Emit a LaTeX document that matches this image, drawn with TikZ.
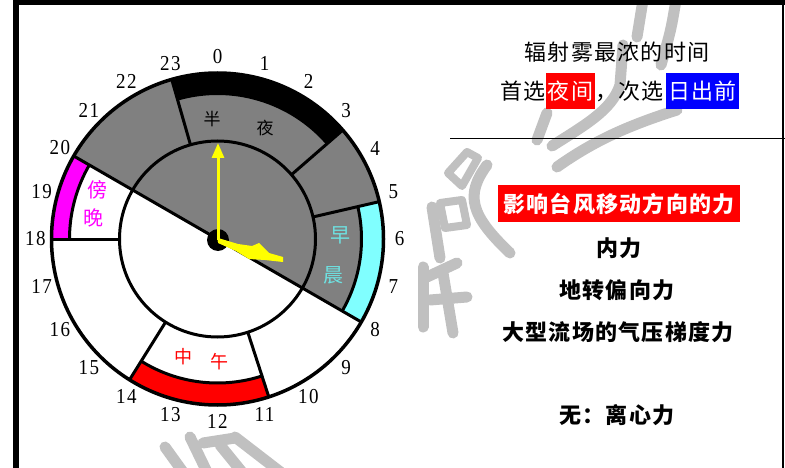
\documentclass[tikz,border=0pt]{standalone}
\usepackage{fontspec}
\usetikzlibrary{arrows.meta}
\setmainfont{Liberation Serif}
\newfontfamily\numfont[LetterSpace=8]{Liberation Serif}
\newfontfamily\cjk{Noto Sans CJK SC}
\newfontfamily\cjksp[LetterSpace=6]{Noto Sans CJK SC}
\definecolor{clkgray}{RGB}{128,128,128}
\definecolor{bandcyan}{RGB}{128,255,255}
\definecolor{txtcyan}{RGB}{110,225,225}
\definecolor{bandmag}{RGB}{255,0,255}
\definecolor{wmgray}{RGB}{192,192,192}
\definecolor{pured}{RGB}{255,0,0}
\definecolor{pureblue}{RGB}{0,0,255}
\definecolor{pureyellow}{RGB}{255,255,0}
\tikzset{
  wm/.style={draw=wmgray, line width=11pt, line cap=round, line join=round},
  clkline/.style={line width=3pt},
  hourlbl/.style={font=\numfont\fontsize{19}{19}\selectfont, inner sep=0pt, yscale=1.12, transform shape},
  zone/.style={font=\cjk\fontsize{#1}{#1}\selectfont, inner sep=0pt},
  rtext/.style={font=\cjksp\fontsize{22}{22}\selectfont, inner sep=0pt},
  btext/.style={font=\cjksp\bfseries\fontsize{22}{22}\selectfont, inner sep=0pt},
  hibox/.style={fill=#1, text=white, inner sep=0pt, font=\cjksp\fontsize{22}{22}\selectfont}
}
\begin{document}
\begin{tikzpicture}[x=1pt,y=1pt,line join=round]
\useasboundingbox (0,0) rectangle (785,-468);
\fill[white] (0,0) rectangle (785,-468);

% watermark (pixel coordinates, y downward)
\begin{scope}[yscale=-1]
\draw[wm] (643,0) -- (637,37);
\draw[wm] (676,0) .. controls (671,30) .. (661,65);
\draw[wm] (623,45) -- (620,85) .. controls (612,110) and (585,125) .. (552,146);
\draw[wm] (677,110) .. controls (630,125) and (595,140) .. (557,167);
\draw[wm] (547,113) -- (537,140);
\draw[wm, line width=8pt] (448,173) -- (467,152) -- (478,158) -- (462,186) -- cycle;
\draw[wm] (487,165) .. controls (465,195) and (470,215) .. (510,253);
\draw[wm, line width=8pt] (440,203) -- (462,200) -- (467,225) -- (445,228) -- cycle;
\draw[wm] (432,207) -- (440,258);
\draw[wm] (423,267) -- (423,327);
\draw[wm] (427,277) -- (457,263);
\draw[wm] (430,300) -- (467,297);
\draw[wm] (443,273) -- (453,333);
\draw[wm] (165,447) -- (183,472);
\draw[wm] (190,437) -- (207,472);
\draw[wm] (203,443) -- (235,438);
\draw[wm] (220,445) -- (242,472);
\draw[wm] (235,437) -- (283,474);
\end{scope}

% frame
\fill (13,0) rectangle (785,-5);
\fill (13,0) rectangle (19,-468);
\draw[line width=2pt] (783,0) -- (783,-468);
\draw[line width=1.8pt] (450,-138.5) -- (785,-138.5);

% clock
\begin{scope}[shift={(217.5,-239)}]
  \fill[clkgray] (0,0) -- (-30:166) arc[start angle=-30,end angle=150,radius=166] -- cycle;
  \fill[black] (41:144) arc[start angle=41,end angle=106,radius=144] -- (106:166) arc[start angle=106,end angle=41,radius=166] -- cycle;
  \fill[bandcyan] (-30:144) arc[start angle=-30,end angle=13,radius=144] -- (13:166) arc[start angle=13,end angle=-30,radius=166] -- cycle;
  \fill[pured] (-122:144) arc[start angle=-122,end angle=-72,radius=144] -- (-72:166) arc[start angle=-72,end angle=-122,radius=166] -- cycle;
  \fill[bandmag] (150:148) arc[start angle=150,end angle=180,radius=148] -- (180:166) arc[start angle=180,end angle=150,radius=166] -- cycle;
  \draw[clkline] (-30:144) arc[start angle=-30,end angle=13,radius=144];
  \draw[clkline] (-122:144) arc[start angle=-122,end angle=-72,radius=144];
  \draw[clkline] (150:148) arc[start angle=150,end angle=180,radius=148];
  \foreach \a in {106,41,13,-72,-122,180}{\draw[clkline] (\a:98) -- (\a:166);}
  \draw[clkline] (0,0) circle[radius=98];
  \draw[clkline] (150:166) -- (-30:166);
  \draw[line width=3.5pt] (0,0) circle[radius=166];
  \foreach \h in {0,...,23}{\node[hourlbl] (h\h) at ({90-15*\h}:182) {\h};}
\end{scope}

% hub and hands
\fill (218,-240) circle[radius=11];
\draw[pureyellow, line width=3pt, -{Triangle[width=12pt,length=15pt]}] (218,-240) -- (218,-143);
\draw[pureyellow, line width=3pt] (218,-240) -- (238,-247);
\fill[pureyellow] (218,-238) -- (238,-244) -- (252,-246) -- (259,-243) -- (269,-253) -- (283,-257) -- (283,-262) -- (265,-260) -- (249,-259) -- (236,-251) -- (218,-243) -- cycle;

% zone labels
\node[zone=17, text=black] (ban) at (212,-119) {半};
\node[zone=17, text=black] (ye) at (265,-128) {夜};
\node[zone=20, text=bandmag] (bang) at (97,-190) {傍};
\node[zone=20, text=bandmag] (wan) at (93,-218) {晚};
\node[zone=20, text=txtcyan] (zao) at (340,-235) {早};
\node[zone=20, text=txtcyan] (chen) at (333,-275) {晨};
\node[zone=18, text=pured] (zhong) at (183,-357) {中};
\node[zone=18, text=pured] (wu) at (219,-362) {午};

% right texts
\node[rtext] (t1) at (617,-52) {辐射雾最浓的时间};
\node[rtext, anchor=east] (t2a) at (546,-91) {首选};
\node[hibox=pured, minimum width=49pt, minimum height=36pt] (t2b) at (570.5,-91) {夜间};
\node[rtext, anchor=west] (t2c) at (595,-91) {，次选};
\node[hibox=pureblue, minimum width=73pt, minimum height=36pt] (t2d) at (702.5,-91) {日出前};

\node[hibox=pured, font=\cjksp\bfseries\fontsize{22}{22}\selectfont, minimum width=242pt, minimum height=37pt] (f0) at (619,-203.5) {影响台风移动方向的力};
\node[btext] (f1) at (619,-248) {内力};
\node[btext] (f2) at (617,-290) {地转偏向力};
\node[btext] (f3) at (618,-332) {大型流场的气压梯度力};
\node[btext] (f4) at (617,-415) {无：离心力};
\end{tikzpicture}
\end{document}
